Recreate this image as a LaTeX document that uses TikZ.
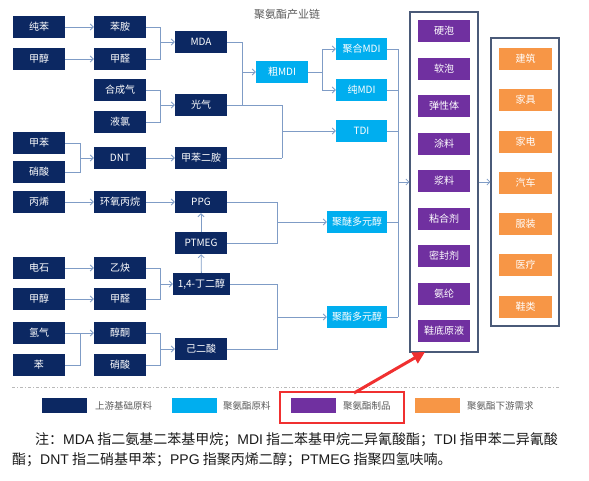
\documentclass[tikz,border=0pt]{standalone}
\usepackage{fontspec}
\newfontfamily\cjk{Noto Sans CJK SC}
\newfontfamily\latf{Liberation Sans}
\usetikzlibrary{arrows.meta}
\definecolor{navy}{HTML}{0C2862}
\definecolor{lblue}{HTML}{00AEEF}
\definecolor{purp}{HTML}{7030A0}
\definecolor{orng}{HTML}{F79646}
\definecolor{lnk}{HTML}{7F9CC6}
\definecolor{frame}{HTML}{4A5A78}
\definecolor{redc}{HTML}{F03030}
\definecolor{txtgray}{HTML}{595959}
\begin{document}
\begin{tikzpicture}[x=1pt,y=-1pt,
  every node/.style={font=\cjk\fontsize{10}{12}\selectfont},
  nbox/.style={fill=navy, text=white, minimum width=52pt, minimum height=22pt, inner sep=0pt},
  bbox/.style={nbox, fill=lblue},
  pbox/.style={nbox, fill=purp},
  obox/.style={nbox, fill=orng, minimum width=53pt},
  conn/.style={draw=lnk, line width=0.8pt},
  arr/.style={conn, -{Straight Barb[length=3pt,width=6pt]}},
  cont/.style={draw=frame, line width=1.2pt, inner sep=0pt},
  legbox/.style={minimum width=45pt, minimum height=15pt, inner sep=0pt},
  legtxt/.style={anchor=west, text=txtgray, font=\cjk\fontsize{9.5}{11}\selectfont, inner sep=0pt},
  notetxt/.style={anchor=west, inner sep=0pt, text=black!90, font=\cjk\fontsize{14}{16}\selectfont},
]
\useasboundingbox (0,0) rectangle (589,480);
% title
\node[text=txtgray, font=\cjk\fontsize{11}{13}\selectfont] (title) at (287,14) {聚氨酯产业链};
% column 1
\node[nbox] (a1) at (39,27) {纯苯};
\node[nbox] (a2) at (39,59) {甲醇};
\node[nbox] (a3) at (39,143) {甲苯};
\node[nbox] (a4) at (39,172) {硝酸};
\node[nbox] (a5) at (39,202) {丙烯};
\node[nbox] (a6) at (39,268) {电石};
\node[nbox] (a7) at (39,299) {甲醇};
\node[nbox] (a8) at (39,333) {氢气};
\node[nbox] (a9) at (39,365) {苯};
% column 2
\node[nbox] (b1) at (120,27) {苯胺};
\node[nbox] (b2) at (120,59) {甲醛};
\node[nbox] (b3) at (120,90) {合成气};
\node[nbox] (b4) at (120,122) {液氯};
\node[nbox] (b5) at (120,158) {DNT};
\node[nbox] (b6) at (120,202) {环氧丙烷};
\node[nbox] (b7) at (120,268) {乙炔};
\node[nbox] (b8) at (120,299) {甲醛};
\node[nbox] (b9) at (120,333) {醇酮};
\node[nbox] (b10) at (120,365) {硝酸};
% column 3
\node[nbox] (mda) at (201,42) {MDA};
\node[nbox] (gq) at (201,105) {光气};
\node[nbox] (tda) at (201,158) {甲苯二胺};
\node[nbox] (ppg) at (201,202) {PPG};
\node[nbox] (ptmeg) at (201,243) {PTMEG};
\node[nbox, minimum width=57pt] (bdo) at (201.5,284) {1,4-丁二醇};
\node[nbox] (aa) at (201,349) {己二酸};
% column 4
\node[bbox] (cmdi) at (282,72) {粗MDI};
\node[bbox, minimum width=51pt] (pmdi) at (361.5,49) {聚合MDI};
\node[bbox, minimum width=51pt] (cunmdi) at (361.5,90) {纯MDI};
\node[bbox, minimum width=51pt] (tdi) at (361.5,131) {TDI};
\node[bbox, minimum width=60pt] (pether) at (357,222) {聚醚多元醇};
\node[bbox, minimum width=60pt] (pester) at (357,317) {聚酯多元醇};
% containers
\node[cont, minimum width=68pt, minimum height=340pt] (pc) at (444,182) {};
\node[cont, minimum width=68pt, minimum height=288pt] (oc) at (525,182) {};
% purple products
\node[pbox] (p1) at (444,31) {硬泡};
\node[pbox] (p2) at (444,69) {软泡};
\node[pbox] (p3) at (444,106) {弹性体};
\node[pbox] (p4) at (444,144) {涂料};
\node[pbox] (p5) at (444,181) {浆料};
\node[pbox] (p6) at (444,219) {粘合剂};
\node[pbox] (p7) at (444,256) {密封剂};
\node[pbox] (p8) at (444,294) {氨纶};
\node[pbox] (p9) at (444,331) {鞋底原液};
% orange demand
\node[obox] (o1) at (525.5,59) {建筑};
\node[obox] (o2) at (525.5,100) {家具};
\node[obox] (o3) at (525.5,142) {家电};
\node[obox] (o4) at (525.5,183) {汽车};
\node[obox] (o5) at (525.5,224) {服装};
\node[obox] (o6) at (525.5,265) {医疗};
\node[obox] (o7) at (525.5,307) {鞋类};
% junction coordinates
\coordinate (j1) at (160,42);
\coordinate (j2) at (160,105);
\coordinate (j3) at (80,158);
\coordinate (j4) at (160,284);
\coordinate (j5) at (80,333);
\coordinate (j6) at (160,349);
\coordinate (j7) at (242,72);
\coordinate (j7b) at (242,105);
\coordinate (j8) at (282,131);
\coordinate (j8b) at (282,158);
\coordinate (j9) at (322,72);
\coordinate (j10) at (277,222);
\coordinate (j11) at (277,317);
\coordinate (bt) at (398,49);
\coordinate (bb) at (398,317);
\coordinate (bm) at (398,182);
% connectors col1 -> col2
\draw[arr] (a1) -- (b1);
\draw[arr] (a2) -- (b2);
\draw[conn] (a3.east) -| (j3);
\draw[conn] (a4.east) -| (j3);
\draw[arr] (j3) -- (b5.west);
\draw[arr] (a5) -- (b6);
\draw[arr] (a6) -- (b7);
\draw[arr] (a7) -- (b8);
\draw[arr] (a8) -- (b9);
\draw[conn] (a9.east) -| (j5);
% col2 -> col3
\draw[conn] (b1.east) -| (j1);
\draw[conn] (b2.east) -| (j1);
\draw[arr] (j1) -- (mda.west);
\draw[conn] (b3.east) -| (j2);
\draw[conn] (b4.east) -| (j2);
\draw[arr] (j2) -- (gq.west);
\draw[arr] (b5) -- (tda);
\draw[arr] (b6) -- (ppg);
\draw[conn] (b7.east) -| (j4);
\draw[conn] (b8.east) -| (j4);
\draw[arr] (j4) -- (bdo.west);
\draw[conn] (b9.east) -| (j6);
\draw[conn] (b10.east) -| (j6);
\draw[arr] (j6) -- (aa.west);
\draw[arr] (ptmeg) -- (ppg);
\draw[arr] (bdo) -- (ptmeg);
% col3 -> col4
\draw[conn] (mda.east) -| (j7b);
\draw[conn] (gq.east) -| (j8b);
\draw[conn] (tda.east) -- (j8b);
\draw[arr] (j7) -- (cmdi.west);
\draw[arr] (j8) -- (tdi.west);
\draw[conn] (cmdi.east) -- (j9);
\draw[arr] (j9) |- (pmdi.west);
\draw[arr] (j9) |- (cunmdi.west);
\draw[conn] (ppg.east) -| (j10);
\draw[conn] (ptmeg.east) -| (j10);
\draw[arr] (j10) -- (pether.west);
\draw[conn] (bdo.east) -| (j11);
\draw[conn] (aa.east) -| (j11);
\draw[arr] (j11) -- (pester.west);
% bus to products
\draw[conn] (pmdi.east) -- (bt) -- (bb);
\draw[conn] (cunmdi.east) -- (cunmdi.east -| bt);
\draw[conn] (tdi.east) -- (tdi.east -| bt);
\draw[conn] (pether.east) -- (pether.east -| bt);
\draw[conn] (pester.east) -- (bb);
\draw[arr] (bm) -- (pc.west);
\draw[arr] (pc.east) -- (oc.west);
% dashed separator
\coordinate (d1) at (12,387);
\coordinate (d2) at (559,387);
\draw[gray!55, line width=0.6pt, dash pattern=on 3pt off 2pt on 1pt off 2pt] (d1) -- (d2);
% legend
\node[legbox, fill=navy] (l1) at (64.5,405.5) {};
\node[legtxt] (lt1) at (95,405.5) {上游基础原料};
\node[legbox, fill=lblue] (l2) at (194.5,405.5) {};
\node[legtxt] (lt2) at (223,405.5) {聚氨酯原料};
\node[legbox, fill=purp] (l3) at (313.5,405.5) {};
\node[legtxt] (lt3) at (343,405.5) {聚氨酯制品};
\node[legbox, fill=orng] (l4) at (437.5,405.5) {};
\node[legtxt] (lt4) at (467,405.5) {聚氨酯下游需求};
\node[draw=redc, line width=1.5pt, minimum width=124pt, minimum height=31pt, inner sep=0pt] (hl) at (342,407.5) {};
% red arrow
\coordinate (ra) at (354,393);
\coordinate (rb) at (425,352);
\draw[redc, line width=3pt, -{Triangle[length=12pt,width=12pt]}] (ra) -- (rb);
% note
\node[notetxt] (n1) at (35,440) {注：{\latf MDA} 指二氨基二苯基甲烷；{\latf MDI} 指二苯基甲烷二异氰酸酯；{\latf TDI} 指甲苯二异氰酸};
\node[notetxt] (n2) at (12,459.5) {酯；{\latf DNT} 指二硝基甲苯；{\latf PPG} 指聚丙烯二醇；{\latf PTMEG} 指聚四氢呋喃。};
\end{tikzpicture}
\end{document}
